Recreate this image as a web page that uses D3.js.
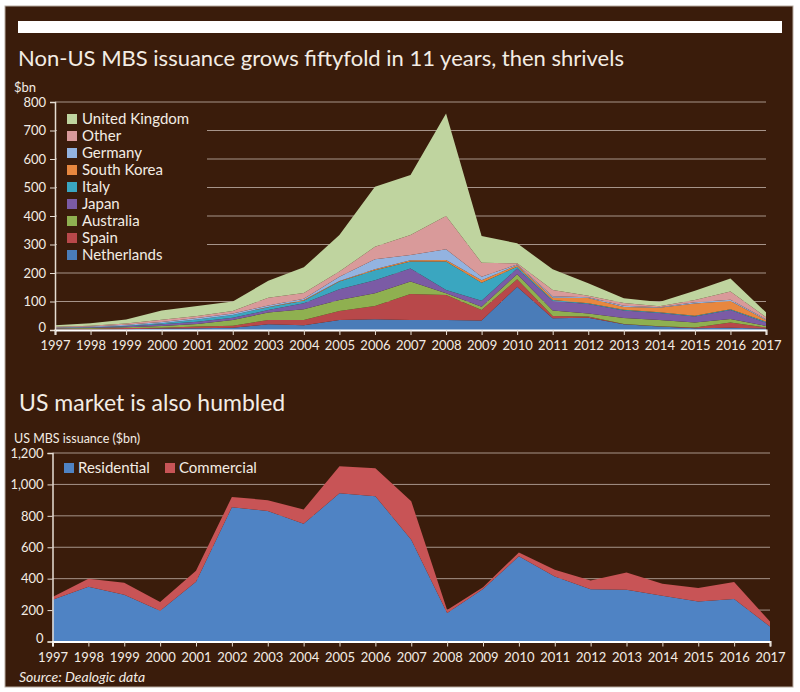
<!DOCTYPE html>
<html>
<head>
<meta charset="utf-8">
<script src="https://cdn.jsdelivr.net/npm/d3@7"></script>
<style>
  body { margin: 0; background: #fff; }
  svg text { font-family: Lato, "Open Sans", sans-serif; fill: #f3ece4; }
</style>
</head>
<body>
<div id="chart"></div>
<script>
// years on both x axes
const years = [1997, 1998, 1999, 2000, 2001, 2002, 2003, 2004, 2005, 2006, 2007,
               2008, 2009, 2010, 2011, 2012, 2013, 2014, 2015, 2016, 2017];

// non-US issuance by country ($bn), bottom of stack first
const netherlands   = [2, 2, 3, 5, 6, 8, 20, 17, 35, 38, 35, 35, 33, 152, 41, 43, 20, 12, 6, 8, 5];
const spain         = [1, 2, 4, 3, 6, 7, 15, 18, 32, 46, 91, 88, 37, 26, 8, 4, 1, 1, 3, 18, 4];
const australia     = [2, 3, 3, 6, 9, 20, 26, 38, 38, 45, 44, 6, 12, 18, 19, 11, 21, 22, 17, 13, 5];
const japan         = [2, 2, 3, 6, 8, 8, 9, 21, 38, 46, 46, 11, 21, 20, 34, 33, 26, 25, 21, 31, 12];
const italy         = [1, 1, 2, 4, 8, 10, 10, 9, 27, 35, 24, 100, 63, 6, 3, 3, 3, 2, 3, 3, 3];
const southKorea    = [0, 0, 0, 0, 0, 0, 1, 2, 2, 3, 5, 6, 9, 5, 8, 18, 10, 16, 43, 29, 6];
const germany       = [1, 2, 3, 4, 5, 5, 5, 5, 15, 35, 18, 37, 12, 3, 5, 3, 4, 2, 4, 4, 3];
const other         = [2, 3, 5, 8, 7, 9, 27, 20, 18, 44, 70, 117, 49, 4, 22, 5, 10, 3, 8, 29, 7];
const unitedKingdom = [6, 9, 14, 32, 35, 33, 60, 90, 128, 211, 211, 360, 94, 70, 73, 44, 16, 15, 33, 46, 17];

const countryNames  = ["Netherlands", "Spain", "Australia", "Japan", "Italy",
                       "South Korea", "Germany", "Other", "United Kingdom"];
const countryColors = ["#4a7cb8", "#b8484a", "#8fb050", "#7b5ba5", "#3aa6c0",
                       "#e8873f", "#93b3e0", "#d99a9a", "#bfd49f"];

// US issuance ($bn)
const residential = [265, 348, 297, 195, 380, 855, 830, 750, 943, 925, 648,
                     182, 335, 542, 414, 333, 329, 291, 254, 270, 95];
const commercial  = [19, 52, 77, 57, 70, 65, 70, 90, 172, 178, 245,
                     18, 10, 25, 43, 56, 111, 76, 86, 108, 32];
const usNames  = ["Residential", "Commercial"];
const usColors = ["#4f83c4", "#c85456"];

const topTicks    = [0, 100, 200, 300, 400, 500, 600, 700, 800];
const bottomTicks = [0, 200, 400, 600, 800, 1000, 1200];

const bg = "#3a1c0b";
const gridColor = "#a6948a";

let svg = d3.select("#chart").append("svg")
    .attr("width", 800)
    .attr("height", 692);

// panel
svg.append("rect")
    .attr("x", 5).attr("y", 6)
    .attr("width", 788).attr("height", 681)
    .attr("fill", bg)
    .attr("stroke", "#b8aca2").attr("stroke-width", 1);

svg.append("rect")
    .attr("x", 18).attr("y", 21)
    .attr("width", 764).attr("height", 12)
    .attr("fill", "#fff");

// ---------- top chart ----------
let xTop = d3.scaleLinear().domain([1997, 2017]).range([55, 766]);
let yTop = d3.scaleLinear().domain([0, 800]).range([330, 102]);

svg.append("text")
    .attr("x", 18).attr("y", 66)
    .style("font-size", "22px")
    .text("Non-US MBS issuance grows fiftyfold in 11 years, then shrivels");

svg.append("text")
    .attr("x", 14).attr("y", 92)
    .style("font-size", "13px")
    .text("$bn");

svg.append("g").selectAll("line")
    .data(topTicks.filter(d => d > 0))
    .enter().append("line")
    .attr("x1", xTop(1997)).attr("x2", xTop(2017))
    .attr("y1", d => yTop(d)).attr("y2", d => yTop(d))
    .attr("stroke", gridColor).attr("stroke-width", 1);

let countrySeries = [netherlands, spain, australia, japan, italy, southKorea, germany, other, unitedKingdom];
let topTable = years.map((yr, i) => {
    let row = { year: yr };
    countryNames.forEach((n, j) => row[n] = countrySeries[j][i]);
    return row;
});
let topStack = d3.stack().keys(countryNames)(topTable);

let topArea = d3.area()
    .x(d => xTop(d.data.year))
    .y0(d => yTop(d[0]))
    .y1(d => yTop(d[1]));

svg.append("g").selectAll("path")
    .data(topStack)
    .enter().append("path")
    .attr("d", topArea)
    .attr("fill", (d, i) => countryColors[i]);

// legend box hides the grid behind it
svg.append("rect")
    .attr("x", 57).attr("y", 105)
    .attr("width", 150).attr("height", 157)
    .attr("fill", bg);

let legendTop = svg.append("g").selectAll("g")
    .data(countryNames.slice().reverse())
    .enter().append("g")
    .attr("transform", (d, i) => "translate(67," + (119 + i * 17) + ")");

legendTop.append("rect")
    .attr("x", 0).attr("y", -5)
    .attr("width", 10).attr("height", 10)
    .attr("fill", d => countryColors[countryNames.indexOf(d)]);

legendTop.append("text")
    .attr("x", 15).attr("y", 5)
    .style("font-size", "15px")
    .text(d => d);

let yAxisTop = svg.append("g")
    .attr("transform", "translate(55,0)")
    .call(d3.axisLeft(yTop).tickValues(topTicks).tickSize(5).tickPadding(4));

let xAxisTop = svg.append("g")
    .attr("transform", "translate(0,330)")
    .call(d3.axisBottom(xTop).tickValues(years).tickFormat(d3.format("d")).tickSize(5).tickPadding(6));

// ---------- bottom chart ----------
let xBot = d3.scaleLinear().domain([1997, 2017]).range([52.5, 770]);
let yBot = d3.scaleLinear().domain([0, 1200]).range([641.5, 453]);

svg.append("text")
    .attr("x", 19).attr("y", 411)
    .style("font-size", "23px")
    .text("US market is also humbled");

svg.append("text")
    .attr("x", 14).attr("y", 443)
    .style("font-size", "12.5px")
    .text("US MBS issuance ($bn)");

svg.append("g").selectAll("line")
    .data(bottomTicks.filter(d => d > 0))
    .enter().append("line")
    .attr("x1", xBot(1997)).attr("x2", xBot(2017))
    .attr("y1", d => yBot(d)).attr("y2", d => yBot(d))
    .attr("stroke", gridColor).attr("stroke-width", 1);

let usTable = years.map((yr, i) => ({ year: yr, Residential: residential[i], Commercial: commercial[i] }));
let usStack = d3.stack().keys(usNames)(usTable);

let botArea = d3.area()
    .x(d => xBot(d.data.year))
    .y0(d => yBot(d[0]))
    .y1(d => yBot(d[1]));

svg.append("g").selectAll("path")
    .data(usStack)
    .enter().append("path")
    .attr("d", botArea)
    .attr("fill", (d, i) => usColors[i]);

let legendBot = svg.append("g").selectAll("g")
    .data(usNames)
    .enter().append("g")
    .attr("transform", (d, i) => "translate(" + [64, 165][i] + ",468)");

legendBot.append("rect")
    .attr("x", 0).attr("y", -5)
    .attr("width", 10).attr("height", 10)
    .attr("fill", (d, i) => usColors[i]);

legendBot.append("text")
    .attr("x", 14).attr("y", 5)
    .style("font-size", "15px")
    .text(d => d);

let yAxisBot = svg.append("g")
    .attr("transform", "translate(52.5,0)")
    .call(d3.axisLeft(yBot).tickValues(bottomTicks).tickFormat(d3.format(",")).tickSize(5).tickPadding(4));

let xAxisBot = svg.append("g")
    .attr("transform", "translate(0,641.5)")
    .call(d3.axisBottom(xBot).tickValues(years).tickFormat(d3.format("d")).tickSize(5).tickPadding(6));

svg.append("text")
    .attr("x", 19).attr("y", 682)
    .style("font-size", "14px")
    .style("font-style", "italic")
    .text("Source: Dealogic data");

// axis styling
[yAxisTop, yAxisBot].forEach(g => {
    g.select(".domain").attr("stroke", "#e6ddd3").attr("stroke-width", 1.5);
    g.selectAll(".tick line").attr("stroke", "#e6ddd3");
    g.selectAll(".tick text").style("font-size", "13px").attr("fill", "#f3ece4");
    // lift the zero label a little so it clears the year labels
    g.selectAll(".tick text").filter(d => d === 0).attr("dy", "0.1em");
});
[xAxisTop, xAxisBot].forEach(g => {
    g.select(".domain").attr("stroke", "#fff").attr("stroke-width", 2);
    g.selectAll(".tick line").attr("stroke", "#e6ddd3");
    g.selectAll(".tick text").style("font-size", "13px").attr("fill", "#f3ece4");
});
</script>
</body>
</html>
